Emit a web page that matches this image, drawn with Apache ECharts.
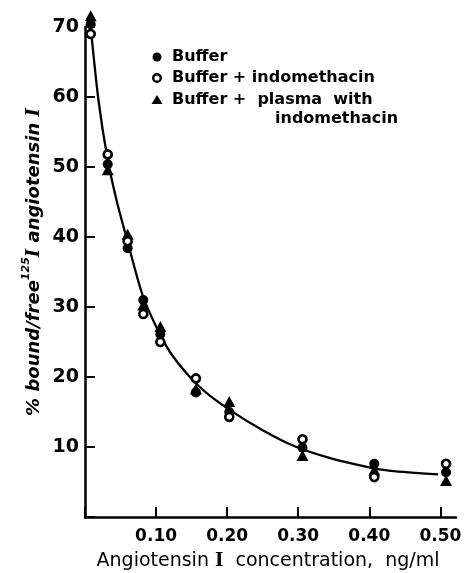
<!DOCTYPE html>
<html>
<head>
<meta charset="utf-8">
<script src="https://cdn.jsdelivr.net/npm/echarts@6/dist/echarts.min.js"></script>
<style>html,body{margin:0;padding:0;background:#fff;}#c{width:468px;height:573px;}</style>
</head>
<body>
<div id="c"></div>
<script>
// concentrations (ng/ml) of the measured groups
var concentrations = [0.008, 0.032, 0.060, 0.082, 0.106, 0.156, 0.203, 0.306, 0.407, 0.508];
// % bound/free values
var bufferValues = [70.4, 50.4, 38.4, 31.0, 26.1, 17.8, 15.0, 9.9, 7.6, 6.4];
var indomethacinValues = [69.0, 51.8, 39.4, 29.0, 25.0, 19.8, 14.3, 11.1, 5.7, 7.6];
var plasmaValues = [71.6, 49.6, 40.4, 30.3, 27.2, 18.3, 16.5, 8.8, 6.7, 5.2];
// fitted curve
var curveX = [0.008, 0.019, 0.032, 0.045, 0.060, 0.080, 0.100, 0.120, 0.145, 0.170, 0.205, 0.250, 0.295, 0.345, 0.395, 0.430, 0.497];
var curveY = [70, 59.5, 51, 45, 39.3, 32, 27.2, 23.5, 20.3, 17.8, 15.2, 12.4, 10.1, 8.4, 7.2, 6.6, 6.1];
// tick labels
var xTickLabels = ['', '0.10', '0.20', '0.30', '0.40', '0.50'];
var yTickLabels = ['', '10', '20', '30', '40', '50', '60', '70'];

function pairs(xs, ys) { return xs.map(function (x, i) { return [x, ys[i]]; }); }

var chart = echarts.init(document.getElementById('c'), null, {renderer: 'canvas'});
var F = 'DejaVu Sans';
chart.setOption({
  backgroundColor: '#fff',
  animation: false,
  grid: {left: 85, top: 27, width: 371, height: 490, containLabel: false},
  xAxis: {
    type: 'value', min: 0, max: 0.522, interval: 0.1,
    axisLine: {show: true, lineStyle: {color: '#000', width: 2.5}},
    axisTick: {show: true, inside: true, length: 10, lineStyle: {color: '#000', width: 2}},
    axisLabel: {
      margin: 11, color: '#000', fontFamily: F, fontWeight: 'bold', fontSize: 17,
      formatter: function (v) { return xTickLabels[Math.round(v * 10)] || ''; }
    },
    splitLine: {show: false}
  },
  yAxis: {
    type: 'value', min: 0, max: 70, interval: 10,
    axisLine: {show: true, lineStyle: {color: '#000', width: 2.5}},
    axisTick: {show: true, inside: true, length: 10, lineStyle: {color: '#000', width: 2}},
    axisLabel: {
      margin: 6, color: '#000', fontFamily: F, fontWeight: 'bold', fontSize: 19,
      formatter: function (v) { return yTickLabels[Math.round(v / 10)] || ''; }
    },
    splitLine: {show: false}
  },
  series: [
    {
      name: 'curve', type: 'line', data: pairs(curveX, curveY),
      smooth: 0.25, showSymbol: false, symbol: 'none',
      lineStyle: {color: '#000', width: 2.3}, z: 1, clip: false
    },
    {
      name: 'Buffer + plasma with indomethacin', type: 'scatter', data: pairs(concentrations, plasmaValues),
      symbol: 'triangle', symbolSize: [12, 11], clip: false,
      itemStyle: {color: '#000', opacity: 1}, z: 3
    },
    {
      name: 'Buffer', type: 'scatter', data: pairs(concentrations, bufferValues),
      symbol: 'circle', symbolSize: 10, clip: false,
      itemStyle: {color: '#000', opacity: 1}, z: 4
    },
    {
      name: 'Buffer + indomethacin', type: 'scatter', data: pairs(concentrations, indomethacinValues),
      symbol: 'circle', symbolSize: 8, clip: false,
      itemStyle: {color: '#fff', borderColor: '#000', borderWidth: 2.6, opacity: 1}, z: 5
    }
  ],
  graphic: [
    // legend
    {type: 'circle', shape: {cx: 157, cy: 57, r: 4.5}, style: {fill: '#000'}},
    {type: 'text', x: 172, y: 57, style: {text: 'Buffer', fill: '#000', font: 'bold 16px "DejaVu Sans"', verticalAlign: 'middle', align: 'left'}},
    {type: 'circle', shape: {cx: 157, cy: 78, r: 3.8}, style: {fill: '#fff', stroke: '#000', lineWidth: 2.4}},
    {type: 'text', x: 172, y: 78, style: {text: 'Buffer + indomethacin', fill: '#000', font: 'bold 16px "DejaVu Sans"', verticalAlign: 'middle', align: 'left'}},
    {type: 'polygon', shape: {points: [[151.5, 104], [162.5, 104], [157, 95]]}, style: {fill: '#000'}},
    {type: 'text', x: 172, y: 100, style: {text: 'Buffer +  plasma  with', fill: '#000', font: 'bold 16px "DejaVu Sans"', verticalAlign: 'middle', align: 'left'}},
    {type: 'text', x: 275, y: 119, style: {text: 'indomethacin', fill: '#000', font: 'bold 16px "DejaVu Sans"', verticalAlign: 'middle', align: 'left'}},
    // y title
    {
      type: 'text', x: 32, y: 262, rotation: Math.PI / 2,
      style: {
        text: '{a|% bound/free}{s|125}{r|I}{a| angiotensin }{r|I}',
        align: 'center', verticalAlign: 'middle', fill: '#000',
        rich: {
          a: {fontFamily: F, fontStyle: 'italic', fontWeight: 'bold', fontSize: 18, fill: '#000', verticalAlign: 'bottom', lineHeight: 22},
          s: {fontFamily: F, fontStyle: 'italic', fontWeight: 'bold', fontSize: 11, fill: '#000', verticalAlign: 'top', lineHeight: 22},
          r: {fontFamily: 'DejaVu Serif', fontStyle: 'italic', fontWeight: 'bold', fontSize: 18, fill: '#000', verticalAlign: 'bottom', lineHeight: 22}
        }
      }
    },
    // x title
    {
      type: 'text', x: 268, y: 561,
      style: {
        text: '{a|Angiotensin }{r|I}{a|  concentration,  ng/ml}',
        align: 'center', verticalAlign: 'middle', fill: '#000',
        rich: {
          a: {fontFamily: F, fontSize: 19, fill: '#000'},
          r: {fontFamily: 'DejaVu Serif', fontWeight: 'bold', fontSize: 18, fill: '#000'}
        }
      }
    }
  ]
});
</script>
</body>
</html>
